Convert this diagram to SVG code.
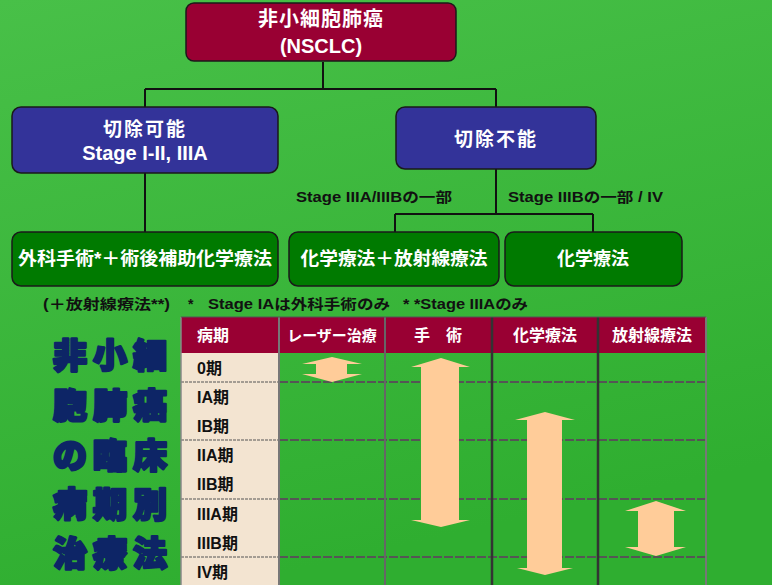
<svg xmlns="http://www.w3.org/2000/svg" width="772" height="585" viewBox="0 0 772 585">
<defs>
<linearGradient id="bg" x1="0" y1="0" x2="0.3" y2="1">
<stop offset="0" stop-color="#48C048"/>
<stop offset="1" stop-color="#2FAE30"/>
</linearGradient>
<style>
.t{font-family:"Liberation Sans","Noto Sans CJK JP",sans-serif;font-weight:bold}
.w{fill:#ffffff}
.k{fill:#111111}
.box{stroke:#1a1a1a;stroke-width:1.5}
.red{fill:#990033}
.blue{fill:#333399}
.grn{fill:#007A00}
.con{stroke:#111;stroke-width:2;fill:none}
.arrow{fill:#FFCC99}
.hl{stroke:#555;stroke-width:2;stroke-dasharray:9 2}
.title{font-family:"Noto Sans CJK JP",sans-serif;font-weight:900;fill:#0D2566;stroke:#0D2566;stroke-width:2.6;stroke-linejoin:round;font-size:34px;letter-spacing:6px}
</style>
</defs>
<rect x="0" y="0" width="772" height="585" fill="url(#bg)"/>

<g id="connectors">
<path class="con" d="M323 62V89M145 89H496M145 89V107M145 173V232M496 89V107M496 169V214M395 214H593M395 214V232M593 214V232"/>
</g>

<g id="n-nsclc">
<rect class="box red" x="186" y="3" width="270" height="58" rx="8"/>
<text class="t w" x="321" y="26" text-anchor="middle" font-size="20" letter-spacing="1">非小細胞肺癌</text>
<text class="t w" x="321" y="53" text-anchor="middle" font-size="20">(NSCLC)</text>
</g>

<g id="n-resectable">
<rect class="box blue" x="12" y="107" width="266" height="66" rx="9"/>
<text class="t w" x="145" y="136" text-anchor="middle" font-size="19" letter-spacing="2">切除可能</text>
<text class="t w" x="145" y="160" text-anchor="middle" font-size="20">Stage I-II, IIIA</text>
</g>

<g id="n-unresectable">
<rect class="box blue" x="396" y="107" width="200" height="62" rx="9"/>
<text class="t w" x="496" y="146" text-anchor="middle" font-size="19" letter-spacing="2">切除不能</text>
</g>

<g id="labels">
<text class="t k" x="296" y="202" font-size="14" textLength="156" lengthAdjust="spacingAndGlyphs">Stage IIIA/IIIBの一部</text>
<text class="t k" x="508" y="202" font-size="14" textLength="155" lengthAdjust="spacingAndGlyphs">Stage IIIBの一部 / IV</text>
</g>

<g id="n-surgery">
<rect class="box grn" x="12" y="232" width="266" height="54" rx="9"/>
<text class="t w" x="145" y="265" text-anchor="middle" font-size="18" textLength="254" lengthAdjust="spacingAndGlyphs">外科手術*＋術後補助化学療法</text>
</g>

<g id="n-chemorad">
<rect class="box grn" x="289" y="232" width="210" height="54" rx="9"/>
<text class="t w" x="394" y="265" text-anchor="middle" font-size="18" textLength="187" lengthAdjust="spacingAndGlyphs">化学療法＋放射線療法</text>
</g>

<g id="n-chemo">
<rect class="box grn" x="505" y="232" width="177" height="54" rx="9"/>
<text class="t w" x="593" y="265" text-anchor="middle" font-size="18">化学療法</text>
</g>

<g id="footnote">
<text class="t k" x="43" y="309" font-size="14" textLength="127" lengthAdjust="spacingAndGlyphs">(＋放射線療法**)</text>
<text class="t k" x="188" y="309" font-size="14">*</text>
<text class="t k" x="208" y="309" font-size="14" textLength="182" lengthAdjust="spacingAndGlyphs">Stage IAは外科手術のみ</text>
<text class="t k" x="403" y="309" font-size="14" textLength="125" lengthAdjust="spacingAndGlyphs">* *Stage IIIAのみ</text>
</g>

<g id="big-title">
<text class="title" text-anchor="middle"><tspan x="113" y="368">非小細</tspan><tspan x="113" y="418">胞肺癌</tspan><tspan x="113" y="468">の臨床</tspan><tspan x="113" y="517">病期別</tspan><tspan x="113" y="566">治療法</tspan></text>
</g>

<g id="table">
<rect x="181" y="353" width="98" height="232" fill="#F3E4D1"/>
<rect x="181" y="317" width="525" height="36" fill="#990033"/>
<g stroke="#555" stroke-width="1" stroke-dasharray="3 1">
<path d="M181 382H279M181 440H279M181 499H279M181 557H279"/>
</g>
<path class="hl" d="M279 382H706M279 440H706M279 499H706M279 557H706"/>
<path d="M181 317V585" stroke="#888" stroke-width="1.5"/>
<path d="M279 317V585" stroke="#777" stroke-width="2"/>
<path d="M385 317V585" stroke="#666" stroke-width="2"/>
<path d="M492 317V585" stroke="#333" stroke-width="2.5"/>
<path d="M598 317V585" stroke="#333" stroke-width="2.5"/>
<path d="M706 317V585" stroke="#777" stroke-width="2"/>
<path d="M181 317H706" stroke="#555" stroke-width="1"/>
<text class="t w" x="213" y="341" text-anchor="middle" font-size="16">病期</text>
<text class="t w" x="332" y="341" text-anchor="middle" font-size="15">レーザー治療</text>
<text class="t w" x="438" y="341" text-anchor="middle" font-size="16">手　術</text>
<text class="t w" x="545" y="341" text-anchor="middle" font-size="16">化学療法</text>
<text class="t w" x="652" y="341" text-anchor="middle" font-size="16">放射線療法</text>
<g class="t k" font-size="16">
<text x="197" y="374">0期</text>
<text x="197" y="403">IA期</text>
<text x="197" y="432">IB期</text>
<text x="197" y="461">IIA期</text>
<text x="197" y="490">IIB期</text>
<text x="197" y="520">IIIA期</text>
<text x="197" y="549">IIIB期</text>
<text x="197" y="578">IV期</text>
</g>
<polygon class="arrow" points="332,357 362,364 347,364 347,374 362,374 332,382 302,374 316,374 316,364 302,364"/>
<polygon class="arrow" points="441,358 470,367 459,367 459,520 470,520 441,527 411,520 421,520 421,367 411,367"/>
<polygon class="arrow" points="545,412 575,420 562,420 562,568 573,568 545,575 517,568 527,568 527,420 515,420"/>
<polygon class="arrow" points="656,501 686,511 674,511 674,547 686,547 656,556 625,547 638,547 638,511 625,511"/>
</g>
</svg>
